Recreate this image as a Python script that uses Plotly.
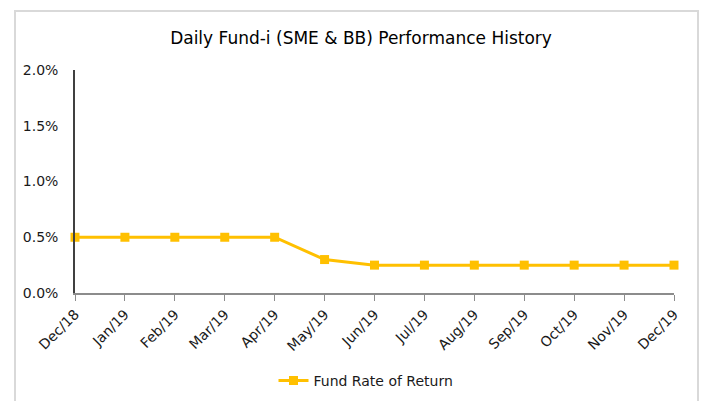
import plotly.graph_objects as go

months = ["Dec/18", "Jan/19", "Feb/19", "Mar/19", "Apr/19", "May/19", "Jun/19",
          "Jul/19", "Aug/19", "Sep/19", "Oct/19", "Nov/19", "Dec/19"]
fund_return = [0.005, 0.005, 0.005, 0.005, 0.005, 0.003, 0.0025,
               0.0025, 0.0025, 0.0025, 0.0025, 0.0025, 0.0025]
y_ticks = [0.0, 0.005, 0.01, 0.015, 0.02]

OFF = 8  # page body margin
W, H = 708 - OFF, 401 - OFF
L, R, T, B = 75 - OFF, 708 - 674, 70 - OFF, 401 - 293
pw, ph = W - L - R, H - T - B

def px_x(p):
    return (p - OFF - L) / pw

def px_y(p):
    return (H - B - (p - OFF)) / ph

fig = go.Figure()
fig.add_trace(go.Scatter(
    x=list(range(len(months))), y=fund_return, mode="lines+markers",
    name="Fund Rate of Return",
    line=dict(color="#FFC000", width=3),
    marker=dict(symbol="square", size=9, color="#FFC000"),
    cliponaxis=False,
))

font = "DejaVu Sans, Verdana, sans-serif"
fig.update_layout(
    width=W, height=H,
    margin=dict(l=L, r=R, t=T, b=B, autoexpand=False),
    paper_bgcolor="white", plot_bgcolor="white",
    font=dict(family=font, size=14, color="#1a1a1a"),
    title=dict(text="Daily Fund-i (SME &amp; BB) Performance History",
               x=(361 - OFF) / W, xanchor="center", xref="container",
               y=1 - (38 - OFF) / H, yanchor="middle", yref="container",
               font=dict(size=17, color="#000000", family=font)),
    showlegend=True,
    legend=dict(orientation="h", x=px_x(366), xanchor="center",
                y=px_y(381), yanchor="middle", font=dict(size=14),
                bgcolor="rgba(0,0,0,0)"),
    xaxis=dict(
        range=[0, len(months) - 1],
        tickmode="array", tickvals=list(range(len(months))), ticktext=months,
        tickangle=-45, showgrid=False, zeroline=False,
        showline=True, linecolor="#8c8c8c", linewidth=1.5,
        ticks="outside", ticklen=6, tickcolor="#8c8c8c", tickwidth=1,
        automargin=False,
    ),
    yaxis=dict(
        range=[0, 0.02], tickvals=y_ticks, tickformat=".1%",
        showgrid=False, zeroline=False,
        showline=True, linecolor="#404040", linewidth=1.5,
        ticks="", ticklabelstandoff=12, automargin=False,
    ),
    shapes=[dict(type="rect", xref="paper", yref="paper",
                 x0=px_x(15), x1=px_x(698), y0=px_y(420), y1=px_y(11),
                 line=dict(color="#d9d9d9", width=2), layer="below")],
)

fig.write_html("out.html")
